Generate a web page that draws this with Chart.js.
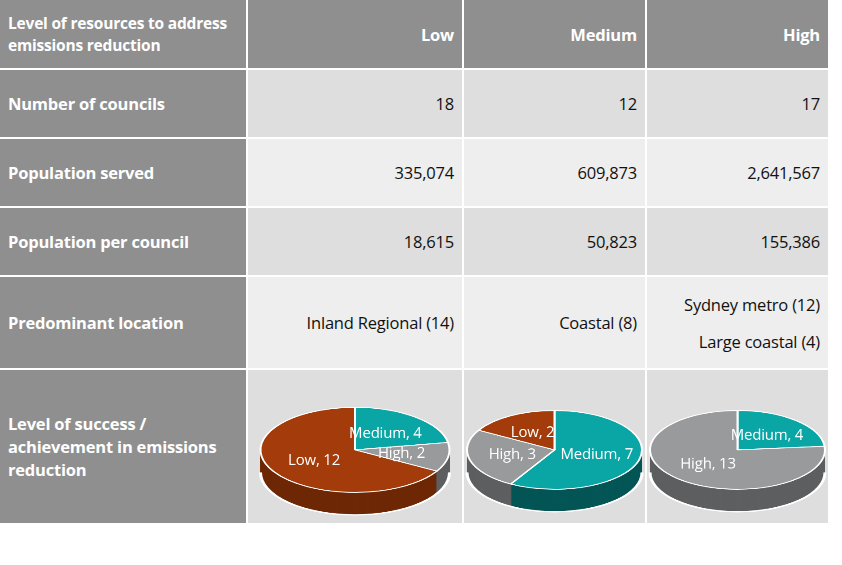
<!DOCTYPE html>
<html><head><meta charset="utf-8">
<script src="https://cdn.jsdelivr.net/npm/chart.js@4"></script>
<style>
body{margin:0;background:#fff;font-family:"Open Sans","Liberation Sans",sans-serif;}
#grid{position:absolute;left:0;top:0;display:grid;grid-template-columns:246px 214px 181px 181px;grid-template-rows:68px 67px 67px 67px 91px 153px;gap:2px;}
.c{box-sizing:border-box;padding:0 8px;display:flex;align-items:center;font-size:16.5px;color:#111;letter-spacing:-0.2px;}
.h{background:#8f8f8f;color:#fff;font-weight:bold;}
.l{background:#8f8f8f;color:#fff;font-weight:bold;}
.r{justify-content:flex-end;text-align:right;}
.a{background:#dddedd;}
.b{background:#eeeeee;}
.pie{position:relative;overflow:hidden;padding:0;}
.pie canvas{position:absolute;left:0;top:36px;transform:scaleY(0.45);transform-origin:0 0;}
</style></head><body>
<div id="grid"></div>
<script>
var columns = ["Low", "Medium", "High"];
var rowTitles = ["Number of councils", "Population served", "Population per council", "Predominant location", "Level of success / achievement in emissions reduction"];
var councils = ["18", "12", "17"];
var population = ["335,074", "609,873", "2,641,567"];
var perCouncil = ["18,615", "50,823", "155,386"];
var locations = [["Inland Regional (14)"], ["Coastal (8)"], ["Sydney metro (12)", "Large coastal (4)"]];
var successLabels = ["Medium", "High", "Low"];
var successLow = [4, 2, 12];
var successMedium = [7, 3, 2];
var successHigh = [4, 13, 0];
var pieColors = ["#0aa6a6", "#999a9b", "#a33c0a"];
var sideColors = ["#045555", "#5e5f60", "#6e2806"];

var grid = document.getElementById("grid");
function cell(cls, html){
    var d = document.createElement("div");
    d.className = "c " + cls;
    d.innerHTML = html;
    grid.appendChild(d);
    return d;
}
cell("h", "Level of resources to address emissions reduction").style.fontSize = "15.5px";
columns.forEach(c => cell("h r", c));
var tables = [councils, population, perCouncil];
for (var i = 0; i < 3; i++){
    cell("l", rowTitles[i]);
    tables[i].forEach(v => cell("r " + (i % 2 ? "b" : "a"), v));
}
cell("l", rowTitles[3]);
locations.forEach(v => cell("r b", v.join("<br>")).style.lineHeight = "37px");
cell("l", rowTitles[4]);

var SQ = 0.45, DEPTH = 50;
var pie3d = {
    id: "pie3d",
    beforeDatasetsDraw(chart){
        var ctx = chart.ctx, arcs = chart.getDatasetMeta(0).data;
        for (var d = DEPTH; d > 0; d -= 2){
            arcs.forEach((a, k) => {
                if (a.endAngle - a.startAngle <= 0) return;
                ctx.save();
                ctx.beginPath();
                ctx.moveTo(a.x, a.y + d);
                ctx.arc(a.x, a.y + d, a.outerRadius, a.startAngle, a.endAngle);
                ctx.closePath();
                ctx.fillStyle = sideColors[k];
                ctx.fill();
                ctx.restore();
            });
        }
        var a0 = arcs[0];
        ctx.save();
        ctx.strokeStyle = "#fff"; ctx.lineWidth = 3;
        ctx.beginPath();
        ctx.arc(a0.x, a0.y + DEPTH, a0.outerRadius, 0, Math.PI);
        ctx.stroke();
        ctx.restore();
    },
    afterDatasetsDraw(chart){
        var ctx = chart.ctx, arcs = chart.getDatasetMeta(0).data, data = chart.data.datasets[0].data;
        arcs.forEach((a, k) => {
            if (!data[k]) return;
            var p = a.tooltipPosition();
            ctx.save();
            ctx.translate(p.x, p.y);
            ctx.scale(1, 1 / SQ);
            ctx.fillStyle = "#fff";
            ctx.font = "15px 'Open Sans', sans-serif";
            ctx.textAlign = "center"; ctx.textBaseline = "middle";
            ctx.fillText(chart.data.labels[k] + ", " + data[k], 0, 0);
            ctx.restore();
        });
    }
};

[successLow, successMedium, successHigh].forEach(vals => {
    var c = cell("a pie", "");
    var w = c.offsetWidth;
    var cv = document.createElement("canvas");
    cv.style.width = w + "px"; cv.style.height = "245px";
    cv.width = w; cv.height = 245;
    c.appendChild(cv);
    new Chart(cv, {
        type: "pie",
        data: { labels: successLabels, datasets: [{ data: vals, backgroundColor: pieColors, borderColor: "#fff", borderWidth: 2 }] },
        options: {
            responsive: false, animation: false,
            layout: { padding: { left: 2, right: 2, top: 2, bottom: DEPTH + 2 } },
            plugins: { legend: { display: false }, tooltip: { enabled: false } }
        },
        plugins: [pie3d]
    });
});
</script>
</body></html>
